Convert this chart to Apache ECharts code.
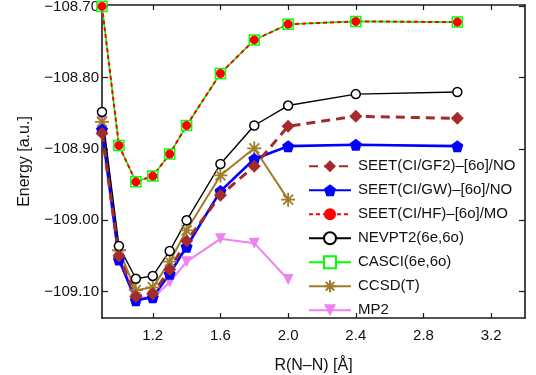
<!DOCTYPE html>
<html><head><meta charset="utf-8">
<script src="https://cdn.jsdelivr.net/npm/echarts@6/dist/echarts.min.js"></script>
<style>html,body{margin:0;padding:0;background:#fff}#c{width:536px;height:375px}</style>
</head><body><div id="c"></div>
<script>
var R = [0.9, 1.0, 1.1, 1.2, 1.3, 1.4, 1.6, 1.8, 2.0, 2.4, 3.0];
var R_short = [0.9, 1.0, 1.1, 1.2, 1.3, 1.4, 1.6, 1.8, 2.0];
var seetGF2 = [-108.878, -109.050, -109.107, -109.103, -109.069, -109.029, -108.965, -108.924, -108.868, -108.854, -108.857];
var seetGW  = [-108.873, -109.055, -109.112, -109.108, -109.075, -109.037, -108.959, -108.914, -108.896, -108.894, -108.896];
var seetHF  = [-108.700, -108.895, -108.946, -108.938, -108.907, -108.867, -108.794, -108.747, -108.725, -108.721, -108.722];
var nevpt2  = [-108.848, -109.036, -109.082, -109.078, -109.043, -109.000, -108.921, -108.867, -108.839, -108.823, -108.820];
var casci   = [-108.700, -108.895, -108.946, -108.938, -108.907, -108.867, -108.794, -108.747, -108.725, -108.721, -108.722];
var ccsdt   = [-108.862, -109.042, -109.098, -109.094, -109.058, -109.014, -108.937, -108.899, -108.971];
var mp2     = [-108.861, -109.050, -109.108, -109.109, -109.087, -109.058, -109.026, -109.032, -109.083];
var xTicks = [1.2, 1.6, 2.0, 2.4, 2.8, 3.2];
var yTicks = [-109.10, -109.00, -108.90, -108.80, -108.70];
var names = ['SEET(CI/GF2)\u2013[6o]/NO','SEET(CI/GW)\u2013[6o]/NO','SEET(CI/HF)\u2013[6o]/MO','NEVPT2(6e,6o)','CASCI(6e,6o)','CCSD(T)','MP2'];

function pairs(xs, ys){ return ys.map(function(v,i){ return [xs[i], v]; }); }
var FONT = 'Liberation Sans, Arial, Helvetica, sans-serif';
var pentagon = 'path://M0,-1L0.951,-0.309L0.588,0.809L-0.588,0.809L-0.951,-0.309Z';
var star = 'path://M0,-1L0,1M-1,0L1,0M-0.71,-0.71L0.71,0.71M-0.71,0.71L0.71,-0.71';

function yfmt(v){ return (v < 0 ? '\u2212' : '') + Math.abs(v).toFixed(2); }

var axisLine = {show:true, lineStyle:{color:'#1a1a1a', width:1.6}};
var chart = echarts.init(document.getElementById('c'), null, {renderer:'canvas'});
chart.setOption({
  animation:false,
  backgroundColor:'#fff',
  grid:{left:102, right:11, top:5, bottom:57, containLabel:false, outerBoundsMode:'none'},
  legend:{
    orient:'vertical', left:308, top:158, padding:0, itemGap:7.6,
    itemWidth:42, itemHeight:15,
    textStyle:{fontFamily:FONT, fontSize:15, color:'#111', padding:[0,0,0,2], lineHeight:16.4},
    data:names
  },
  xAxis:[{
    type:'value', min:0.9, max:3.4, position:'bottom',
    name:'R(N\u2013N) [\u00c5]', nameLocation:'middle', nameGap:40,
    nameTextStyle:{fontFamily:FONT, fontSize:16, color:'#111'},
    axisLine:axisLine,
    axisTick:{show:true, inside:true, length:5, customValues:xTicks, lineStyle:{color:'#1a1a1a', width:1.2}},
    axisLabel:{show:true, margin:10, customValues:xTicks, fontFamily:FONT, fontSize:15, color:'#111',
      formatter:function(v){ return v.toFixed(1); }},
    splitLine:{show:false}
  },{
    type:'value', min:0.9, max:3.4, position:'top',
    axisLine:axisLine,
    axisTick:{show:true, inside:true, length:5, customValues:xTicks, lineStyle:{color:'#1a1a1a', width:1.2}},
    axisLabel:{show:false}, splitLine:{show:false}
  }],
  yAxis:[{
    type:'value', min:-109.137, max:-108.698, position:'left',
    name:'Energy [a.u.]', nameLocation:'middle', nameGap:69,
    nameTextStyle:{fontFamily:FONT, fontSize:16, color:'#111'},
    axisLine:axisLine,
    axisTick:{show:true, inside:true, length:6, customValues:yTicks, lineStyle:{color:'#1a1a1a', width:1.2}},
    axisLabel:{show:true, margin:3, customValues:yTicks, fontFamily:FONT, fontSize:15, color:'#111', formatter:yfmt},
    splitLine:{show:false}
  },{
    type:'value', min:-109.137, max:-108.698, position:'right',
    axisLine:axisLine,
    axisTick:{show:true, inside:true, length:6, customValues:yTicks, lineStyle:{color:'#1a1a1a', width:1.2}},
    axisLabel:{show:false}, splitLine:{show:false}
  }],
  series:[
    {name:names[6], type:'line', data:pairs(R_short, mp2), symbol:'triangle', symbolRotate:180, symbolSize:11,
      lineStyle:{color:'#ee82ee', width:2}, itemStyle:{color:'#ee82ee'}},
    {name:names[5], type:'line', data:pairs(R_short, ccsdt), symbol:star, symbolSize:14,
      lineStyle:{color:'#a07d2a', width:2}, itemStyle:{color:'#a07d2a', borderColor:'#a07d2a', borderWidth:1.8}},
    {name:names[4], type:'line', data:pairs(R, casci), symbol:'rect', symbolSize:10,
      lineStyle:{color:'#00ff00', width:1.6}, itemStyle:{color:'#ffffff', borderColor:'#00ff00', borderWidth:1.5}},
    {name:names[3], type:'line', data:pairs(R, nevpt2), symbol:'circle', symbolSize:9,
      lineStyle:{color:'#000000', width:1.4}, itemStyle:{color:'#ffffff', borderColor:'#000000', borderWidth:1.5}},
    {name:names[2], type:'line', data:pairs(R, seetHF), symbol:'circle', symbolSize:9,
      lineStyle:{color:'#ff0000', width:2, type:[4,3]}, itemStyle:{color:'#ff0000'}},
    {name:names[1], type:'line', data:pairs(R, seetGW), symbol:pentagon, symbolSize:12,
      lineStyle:{color:'#0000ff', width:2.6}, itemStyle:{color:'#0000ff'}},
    {name:names[0], type:'line', data:pairs(R, seetGF2), symbol:'diamond', symbolSize:13,
      lineStyle:{color:'#a52a2a', width:3, type:[9,6]}, itemStyle:{color:'#a52a2a'}}
  ]
});
</script></body></html>
